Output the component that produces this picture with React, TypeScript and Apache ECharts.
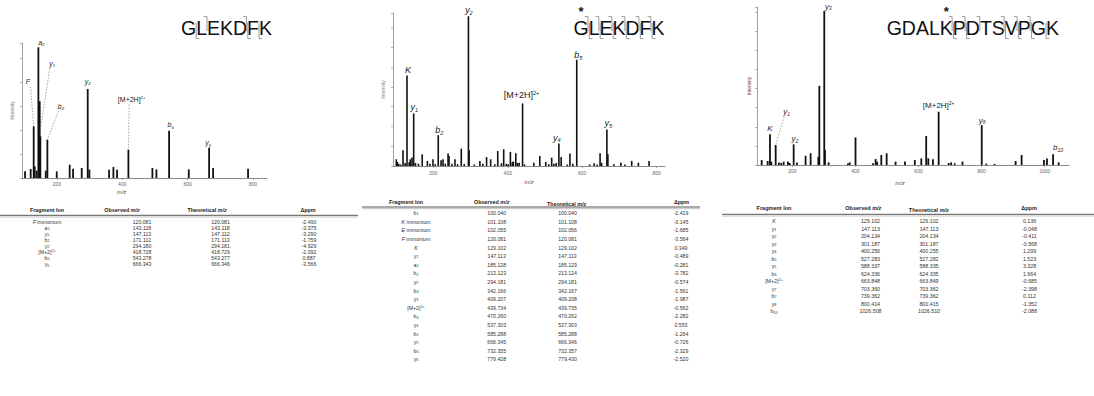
import React, { useEffect, useRef } from 'react';
import * as echarts from 'echarts';

const FF = '"Liberation Sans", Arial, Helvetica, sans-serif';

// ---------------- Panel A : GLEKDFK ----------------
const aMz = [102.3, 119.6, 128.8, 131.9, 138.0, 143.1, 147.2, 149.2, 165.6, 170.7, 199.3, 239.0, 249.3, 275.8, 294.2, 299.3, 359.5, 372.8, 384.0, 418.7, 492.2, 504.5, 543.3, 603.5, 665.8, 678.0, 785.0];
const aInt = [5.1, 6.9, 39.5, 8.9, 5.6, 100, 58.7, 32.0, 5.6, 29.3, 5.1, 10.2, 7.1, 7.7, 68.1, 6.4, 6.4, 8.4, 6.4, 21.7, 7.7, 6.6, 36.2, 6.6, 23.2, 7.7, 7.1];
const aAnnoMz = [128.8, 143.1, 147.5, 170.7, 294.2, 418.7, 543.3, 665.8];
const aAnnoInt = [39.5, 100, 34.4, 29.3, 68.1, 21.7, 36.2, 23.2];
const aAnnoLabel = ['{it|F}', '{it|a}{sub|2}', '{it|y}{sub|1}', '{it|b}{sub|2}', '{it|y}{sub|2}', '[M+2H]{sup|2+}', '{it|b}{sub|5}', '{it|y}{sub|5}'];
const aAnnoDx = [-5.7, 3, 12.5, 13.6, 0, 3.3, 1.6, -1];
const aAnnoDy = [-44.7, -5, -69.7, -33.7, -8, -50, -6, -5];
const aAnnoLeader = [1, 0, 1, 1, 0, 1, 0, 0];
const aTicks = [200, 400, 600, 800];

// ---------------- Panel B : *GLEKDFK ----------------
const bMz = [100.4, 103, 107, 112, 118.4, 124, 129.1, 135, 138, 142.6, 147.1, 152, 160, 170, 184, 191, 199, 205, 213.1, 220.6, 226, 232, 239.5, 242, 250, 258, 265, 275, 283, 294.2, 296, 310, 325, 333, 343, 354, 365, 373, 383, 389, 396, 401, 407, 412, 415, 421.5, 426, 430.5, 439.7, 445, 470, 486, 502, 510, 518, 524, 530, 537.3, 543.5, 560, 567, 575, 585.3, 620, 632, 640, 648, 652, 666.3, 669, 685, 704, 715, 733, 751, 779.6];
const bInt = [4.5, 2.7, 1.5, 1.0, 10.5, 2.0, 60.4, 2.5, 4.5, 5.6, 35.1, 2.0, 1.5, 7.8, 3.4, 1.5, 4.5, 1.2, 20.6, 3.8, 4.5, 1.5, 8.3, 6.7, 1.5, 4.5, 1.2, 11.6, 1.3, 100, 10.5, 1.0, 3.4, 1.5, 6.0, 4.5, 1.2, 10.0, 1.8, 11.2, 1.5, 1.2, 9.4, 2.5, 3.0, 8.5, 2.0, 2.2, 41.8, 1.0, 2.2, 6.7, 2.7, 1.2, 5.6, 1.5, 2.0, 15.0, 6.0, 1.0, 8.3, 1.5, 71.0, 1.0, 1.8, 1.0, 8.5, 2.2, 24.4, 7.8, 1.1, 2.2, 1.0, 3.4, 2.2, 3.4];
const bAnnoMz = [129.1, 147.1, 213.1, 294.2, 439.7, 537.3, 585.3, 666.3];
const bAnnoInt = [60.4, 35.1, 20.6, 100, 41.8, 15.0, 71.0, 24.4];
const bAnnoLabel = ['{it|K}', '{it|y}{sub|1}', '{it|b}{sub|2}', '{it|y}{sub|2}', '[M+2H]{sup|2+}', '{it|y}{sub|4}', '{it|b}{sub|5}', '{it|y}{sub|5}'];
const bAnnoDx = [1, 0.5, 1, 0.5, -1, -2, 1.5, 1.5];
const bAnnoDy = [-6, -6, -5, -6, -8, -6, -5, -6];
const bAnnoLeader = [0, 0, 0, 0, 0, 0, 0, 0];
const bTicks = [200, 400, 600, 800];

// ---------------- Panel C : GDALK*PDTSVPGK ----------------
const cMz = [102.8, 121.8, 129.1, 133.4, 147.2, 157.7, 165, 172.5, 186, 191.5, 204.2, 214.8, 242, 258, 282.4, 285.6, 301.2, 303.5, 315, 376, 381.7, 400.3, 455.6, 464, 469, 482, 499, 527.3, 557, 588.3, 608.8, 624.3, 631, 645.8, 663.8, 695.5, 703.4, 714.5, 739.4, 800.4, 814.8, 841, 907.8, 926.8, 997.6, 1007, 1026.5, 1044];
const cInt = [3.2, 2.6, 19.9, 2.2, 13.0, 1.7, 1.3, 2.2, 2.2, 1.3, 13.4, 1.7, 6.0, 7.6, 5.4, 51.4, 100, 9.7, 1.7, 1.0, 1.7, 17.9, 1.1, 3.9, 2.2, 6.5, 7.6, 2.2, 2.2, 3.2, 4.3, 18.8, 4.3, 3.7, 34.6, 1.3, 1.7, 1.1, 2.2, 25.9, 0.9, 0.7, 2.6, 6.5, 3.2, 4.3, 6.9, 1.7];
const cAnnoMz = [129.1, 147.2, 204.2, 301.2, 663.8, 800.4, 1026.5];
const cAnnoInt = [19.9, 13.0, 13.4, 100, 34.6, 25.9, 6.9];
const cAnnoLabel = ['{it|K}', '{it|y}{sub|1}', '{it|y}{sub|2}', '{it|y}{sub|3}', '[M+2H]{sup|2+}', '{it|y}{sub|8}', '{it|b}{sub|10}'];
const cAnnoDx = [0, 11, 1.3, 4, 0, 0.5, 5];
const cAnnoDy = [-6, -33.3, -6, -5, -6, -5, -7];
const cAnnoLeader = [0, 1, 0, 0, 0, 0, 0];
const cTicks = [200, 400, 600, 800, 1000];

// ---------------- Sequences ----------------
const seqA = 'GLEKDFK';
const marksA: [number, string][] = [[1, 'y'], [2, 'b'], [5, 'by'], [6, 'y']];
const starA = -1;
const seqB = 'GLEKDFK';
const marksB: [number, string][] = [[1, 'by'], [2, 'by'], [3, 'by'], [4, 'by'], [5, 'by'], [6, 'by']];
const starB = 0;
const seqC = 'GDALKPDTSVPGK';
const marksC: [number, string][] = [[5, 'by'], [6, 'by'], [7, 'b'], [9, 'by'], [10, 'by'], [11, 'by'], [12, 'y']];
const starC = 4;

// ---------------- Tables ----------------
const tAIon = ['{it|F} immonium', 'a{sub|2}', 'y{sub|1}', 'b{sub|2}', 'y{sub|2}', '[M+2]{sup|2+}', 'b{sub|5}', 'y{sub|5}'];
const tAObs = [120.081, 143.118, 147.113, 171.112, 294.180, 418.728, 543.278, 666.343];
const tATheo = [120.081, 143.118, 147.112, 171.113, 294.181, 418.729, 543.277, 666.346];
const tAPpm = [-2.490, -3.375, -3.290, -1.759, -4.929, -2.092, 0.887, -3.566];

const tBIon = ['b{sub|1}', '{it|K} immonium', '{it|E} immonium', '{it|F} immonium', '{it|K}', 'y{sub|1}', 'a{sub|2}', 'b{sub|2}', 'y{sub|2}', 'b{sub|3}', 'y{sub|3}', '[M+2]{sup|2+}', 'b{sub|4}', 'y{sub|4}', 'b{sub|5}', 'y{sub|5}', 'b{sub|6}', 'y{sub|6}'];
const tBObs = [100.040, 101.108, 102.055, 120.081, 129.102, 147.113, 185.128, 213.123, 294.181, 342.166, 409.207, 439.734, 470.260, 537.303, 585.288, 666.345, 732.355, 779.428];
const tBTheo = [100.040, 101.108, 102.056, 120.081, 129.102, 147.113, 185.129, 213.124, 294.181, 342.167, 409.208, 439.735, 470.262, 537.303, 585.288, 666.346, 732.357, 779.430];
const tBPpm = [-2.419, -3.145, -1.685, -3.564, 0.349, -0.489, -0.281, -3.782, -0.574, -1.561, -1.987, -0.562, -2.282, 0.553, -1.264, -0.726, -2.329, -2.520];

const tCIon = ['{it|K}', 'y{sub|1}', 'y{sub|2}', 'y{sub|3}', 'y{sub|4}', 'b{sub|5}', 'y{sub|5}', 'b{sub|6}', '[M+2]{sup|2+}', 'y{sub|7}', 'b{sub|7}', 'y{sub|8}', 'b{sub|10}'];
const tCObs = [129.102, 147.113, 204.134, 301.187, 400.256, 527.283, 588.337, 624.336, 663.848, 703.360, 739.362, 800.414, 1026.508];
const tCTheo = [129.102, 147.113, 204.134, 301.187, 400.255, 527.282, 588.335, 624.335, 663.849, 703.362, 739.362, 800.415, 1026.510];
const tCPpm = [0.136, -0.048, -0.411, -0.568, 1.299, 1.523, 3.328, 1.964, -0.685, -2.398, 0.112, -1.352, -2.088];

const tableHeaders = ['{b|Fragment Ion}', '{b|Observed }{bi|m/z}', '{b|Theoretical }{bi|m/z}', '{b|\u0394ppm}'];

// ---------------- helpers ----------------
const LETTER_W: Record<string, number> = { G: 0.778, L: 0.556, E: 0.667, K: 0.667, D: 0.722, F: 0.611, A: 0.667, P: 0.667, T: 0.611, S: 0.667, V: 0.667 };

function annoRich(fs: number) {
  const c = '#1a1a1a';
  return {
    it: { fontStyle: 'italic', fontSize: fs, fontFamily: FF, fill: c, lineHeight: fs * 1.3 },
    sub: { fontStyle: 'italic', fontSize: fs * 0.62, fontFamily: FF, fill: c, verticalAlign: 'bottom', lineHeight: fs * 1.3 },
    sup: { fontSize: fs * 0.62, fontFamily: FF, fill: c, verticalAlign: 'top', lineHeight: fs * 1.3 },
  };
}

function tableRich(fs: number) {
  const c = '#333';
  return {
    it: { fontStyle: 'italic', fontSize: fs, fontFamily: FF, fill: c },
    sub: { fontSize: fs * 0.72, fontFamily: FF, fill: c, verticalAlign: 'bottom', lineHeight: fs * 1.2 },
    sup: { fontSize: fs * 0.72, fontFamily: FF, fill: c, verticalAlign: 'top', lineHeight: fs * 1.2 },
    b: { fontWeight: 'bold', fontSize: fs + 0.2, fontFamily: FF, fill: '#222' },
    bi: { fontWeight: 'bold', fontStyle: 'italic', fontSize: fs + 0.2, fontFamily: FF, fill: '#222' },
  };
}

function txt(x: number, y: number, text: string, fs: number, rich: any, extra: any = {}) {
  return {
    type: 'text', x, y, silent: true,
    style: {
      text, rich, fontSize: fs, fontFamily: FF, fill: '#333',
      align: 'center', verticalAlign: 'middle', textAlign: 'center', textVerticalAlign: 'middle', ...extra,
    },
  };
}

interface TableCfg {
  ions: string[]; obs: number[]; theo: number[]; ppm: number[];
  headerY: number; headerDy: number[]; lineY: number; lineX: [number, number];
  rowY0: number; step: number; headX: number[]; valX: number[]; fs: number;
}

function makeTable(t: TableCfg) {
  const rich = tableRich(t.fs);
  const els: any[] = [];
  tableHeaders.forEach((h, i) => els.push(txt(t.headX[i], t.headerY + t.headerDy[i], h, t.fs, rich)));
  els.push({ type: 'line', silent: true, shape: { x1: t.lineX[0], y1: t.lineY - 0.7, x2: t.lineX[1], y2: t.lineY - 0.7 }, style: { stroke: '#555', lineWidth: 1 } });
  els.push({ type: 'line', silent: true, shape: { x1: t.lineX[0], y1: t.lineY + 1, x2: t.lineX[1], y2: t.lineY + 1 }, style: { stroke: '#999', lineWidth: 0.6 } });
  t.ions.forEach((ion, r) => {
    const y = t.rowY0 + r * t.step;
    els.push(txt(t.valX[0], y, ion, t.fs, rich));
    els.push(txt(t.valX[1], y, t.obs[r].toFixed(3), t.fs, rich));
    els.push(txt(t.valX[2], y, t.theo[r].toFixed(3), t.fs, rich));
    els.push(txt(t.valX[3], y, t.ppm[r].toFixed(3), t.fs, rich));
  });
  return els;
}

function makeSequence(seq: string, marks: [number, string][], star: number, x0: number, fs: number, yMid: number) {
  const els: any[] = [];
  const bounds: number[] = [x0];
  let x = x0;
  for (const ch of seq) {
    els.push({ type: 'text', x, y: yMid, silent: true, style: { text: ch, fontSize: fs, fontFamily: FF, fill: '#111', align: 'left', textAlign: 'left', verticalAlign: 'middle', textVerticalAlign: 'middle' } });
    x += (LETTER_W[ch] || 0.667) * fs;
    bounds.push(x);
  }
  const gray = '#9a9a9a';
  marks.forEach(([pos, kind]) => {
    const bx = bounds[pos];
    const both = kind.length === 2;
    if (kind.includes('b')) {
      const vx = both ? bx - 0.7 : bx;
      els.push({ type: 'polyline', silent: true, shape: { points: [[vx - 3.2, yMid - 11], [vx, yMid - 11], [vx, yMid + 3.5]] }, style: { stroke: gray, lineWidth: 1, fill: 'none' } });
    }
    if (kind.includes('y')) {
      const vx = both ? bx + 0.7 : bx;
      els.push({ type: 'polyline', silent: true, shape: { points: [[vx, yMid - 5], [vx, yMid + 11], [vx + 3.2, yMid + 11]] }, style: { stroke: gray, lineWidth: 1, fill: 'none' } });
    }
  });
  if (star >= 0) {
    const cx = (bounds[star] + bounds[star + 1]) / 2;
    els.push({ type: 'text', x: cx, y: 4.5, silent: true, style: { text: '*', fontSize: 13, fontWeight: 'bold', fontFamily: FF, fill: '#111', align: 'center', textAlign: 'center', verticalAlign: 'top', textVerticalAlign: 'top' } });
  }
  return els;
}

function barSeries(i: number, mz: number[], inten: number[], w: number) {
  return {
    type: 'custom', xAxisIndex: i, yAxisIndex: i, silent: true, clip: false,
    encode: { x: 0, y: 1 },
    data: mz.map((m, k) => [m, inten[k]]),
    renderItem: (params: any, api: any) => {
      const top = api.coord([api.value(0), api.value(1)]);
      const base = api.coord([api.value(0), 0]);
      return { type: 'rect', shape: { x: top[0] - w / 2, y: top[1], width: w, height: base[1] - top[1] }, style: { fill: '#111' } };
    },
  };
}

function annoSeries(i: number, mz: number[], inten: number[], labels: string[], dx: number[], dy: number[], leader: number[], fs: number) {
  const rich = annoRich(fs);
  return {
    type: 'custom', xAxisIndex: i, yAxisIndex: i, silent: true, clip: false, z: 5,
    encode: { x: 0, y: 1 },
    data: mz.map((m, k) => [m, inten[k], k]),
    renderItem: (params: any, api: any) => {
      const k = api.value(2);
      const p = api.coord([api.value(0), api.value(1)]);
      const lx = p[0] + dx[k];
      const ly = p[1] + dy[k];
      const children: any[] = [{
        type: 'text', x: lx, y: ly,
        style: { text: labels[k], rich, fontSize: fs, fontFamily: FF, fill: '#1a1a1a', align: 'center', verticalAlign: 'middle', textAlign: 'center', textVerticalAlign: 'middle' },
      }];
      if (leader[k]) {
        const sx = lx + (p[0] < lx ? -2.5 : 2.5);
        children.push({ type: 'line', shape: { x1: sx, y1: ly + 5, x2: p[0], y2: p[1] }, style: { stroke: '#666', lineWidth: 0.6, lineDash: [1.5, 1.5] } });
      }
      return { type: 'group', children };
    },
  };
}

function xAxisCfg(i: number, min: number, max: number, ticks: number[], gap: number, padRight: number, margin: number) {
  return {
    type: 'value', gridIndex: i, min, max,
    name: 'm/z', nameLocation: 'middle', nameGap: gap,
    nameTextStyle: { fontSize: 6, fontStyle: 'italic', color: '#555', fontFamily: FF, padding: [0, padRight, 0, 0] },
    axisLine: { show: true, lineStyle: { color: '#8a8a8a', width: 1 } },
    axisTick: { show: true, customValues: ticks, length: 2, lineStyle: { color: '#8a8a8a', width: 0.8 } },
    axisLabel: { show: true, customValues: ticks, fontSize: 5, color: '#666', fontFamily: FF, margin, formatter: (v: number) => String(v) },
    splitLine: { show: false },
  };
}

function yAxisCfg(i: number, max: number, interval: number, gap: number, nameColor: string) {
  return {
    type: 'value', gridIndex: i, min: 0, max, interval,
    name: 'Intensity', nameLocation: 'middle', nameGap: gap, nameRotate: 90,
    nameTextStyle: { fontSize: 5, color: nameColor, fontFamily: FF },
    axisLine: { show: true, lineStyle: { color: '#a0a0a0', width: 1 } },
    axisTick: { show: true, length: 2, lineStyle: { color: '#a0a0a0', width: 0.8 } },
    axisLabel: { show: false },
    splitLine: { show: false },
  };
}

function buildOption() {
  const graphics: any[] = [
    ...makeSequence(seqA, marksA, starA, 181, 19.5, 27.6),
    ...makeSequence(seqB, marksB, starB, 573.5, 19.5, 27.6),
    ...makeSequence(seqC, marksC, starC, 886.7, 19.5, 27.6),
    ...makeTable({ ions: tAIon, obs: tAObs, theo: tATheo, ppm: tAPpm, headerY: 210, headerDy: [0, 0, 0, 0], lineY: 216, lineX: [0, 358], rowY0: 221.7, step: 6.1, headX: [47, 122, 207, 308], valX: [47, 142, 220.5, 309], fs: 5.2 }),
    ...makeTable({ ions: tBIon, obs: tBObs, theo: tBTheo, ppm: tBPpm, headerY: 202.3, headerDy: [0, 0, 2, 0], lineY: 207.7, lineX: [362, 700], rowY0: 213.3, step: 8.59, headX: [406, 491.7, 566.7, 681.5], valX: [416, 496.7, 567.5, 681], fs: 5.2 }),
    ...makeTable({ ions: tCIon, obs: tCObs, theo: tCTheo, ppm: tCPpm, headerY: 208.3, headerDy: [0, 0, 1.7, 0], lineY: 215, lineX: [722, 1094], rowY0: 221, step: 7.53, headX: [774, 863.3, 928.8, 1029], valX: [774, 870.5, 929, 1029.5], fs: 5.3 }),
  ];
  return {
    animation: false,
    backgroundColor: '#ffffff',
    grid: [
      { left: 22, top: 43, width: 245, height: 135 },
      { left: 393, top: 13, width: 272, height: 153 },
      { left: 757, top: 7, width: 312, height: 158 },
    ],
    xAxis: [
      xAxisCfg(0, 93, 843, aTicks, 10.7, 46, 3),
      xAxisCfg(1, 91.5, 822.5, bTicks, 13, 0, 4),
      xAxisCfg(2, 88, 1077, cTicks, 15, 26, 3.5),
    ],
    yAxis: [
      yAxisCfg(0, 103.3, 18.4, 8, '#777'),
      yAxisCfg(1, 102.2, 13.2, 8, '#888'),
      yAxisCfg(2, 102.6, 12.4, 6, '#7b3a3a'),
    ],
    graphic: { elements: graphics },
    series: [
      barSeries(0, aMz, aInt, 1.8),
      barSeries(1, bMz, bInt, 1.6),
      barSeries(2, cMz, cInt, 1.8),
      annoSeries(0, aAnnoMz, aAnnoInt, aAnnoLabel, aAnnoDx, aAnnoDy, aAnnoLeader, 7),
      annoSeries(1, bAnnoMz, bAnnoInt, bAnnoLabel, bAnnoDx, bAnnoDy, bAnnoLeader, 9),
      annoSeries(2, cAnnoMz, cAnnoInt, cAnnoLabel, cAnnoDx, cAnnoDy, cAnnoLeader, 8),
    ],
  };
}

export default function App() {
  const ref = useRef<HTMLDivElement>(null);
  useEffect(() => {
    if (!ref.current) return;
    const chart = echarts.init(ref.current, null, { renderer: 'svg' });
    chart.setOption(buildOption() as any);
    return () => chart.dispose();
  }, []);
  return <div ref={ref} style={{ position: 'absolute', left: 0, top: 0, width: 1094, height: 396, background: '#fff' }} />;
}
